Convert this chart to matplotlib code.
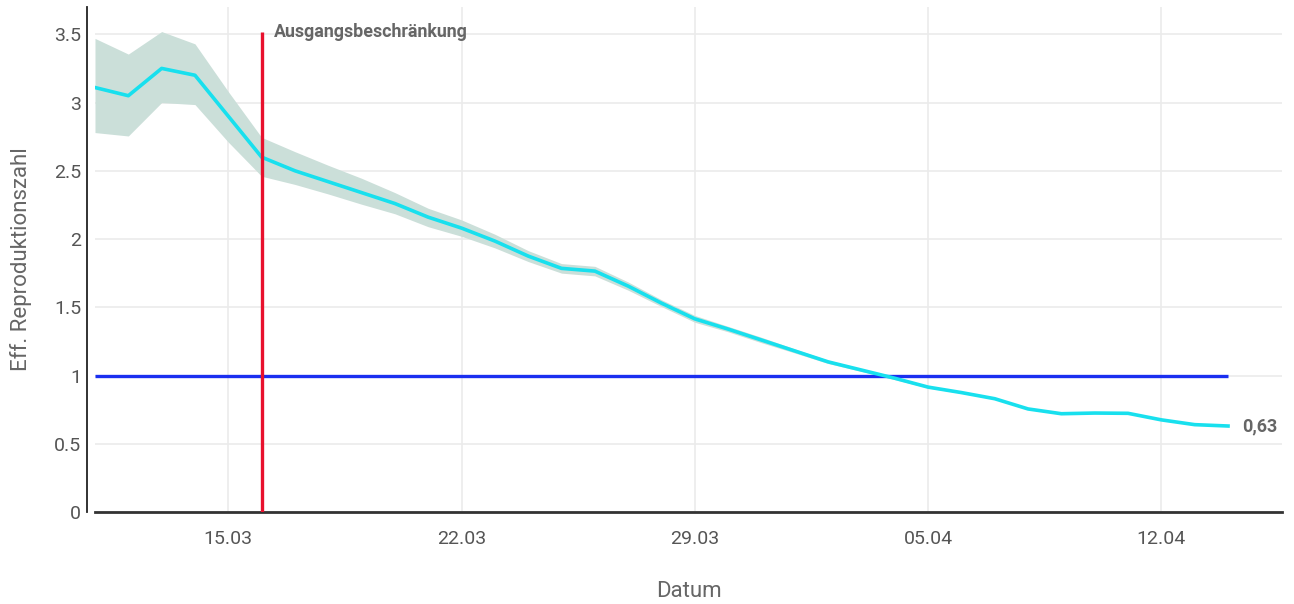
import matplotlib
matplotlib.use("Agg")
import matplotlib.pyplot as plt
import matplotlib.dates as mdates
from matplotlib.ticker import FuncFormatter
import pandas as pd

plt.rcParams['font.family'] = ['Roboto', 'DejaVu Sans']

# effective reproduction number, daily 11.03. - 14.04.2020
dates = pd.date_range("2020-03-11", "2020-04-14", freq="D")
r_eff = [3.11, 3.05, 3.25, 3.20, 2.90, 2.60, 2.50, 2.42, 2.34, 2.26, 2.16,
         2.08, 1.985, 1.875, 1.785, 1.765, 1.655, 1.53, 1.415, 1.34, 1.26,
         1.18, 1.10, 1.04, 0.98, 0.915, 0.875, 0.83, 0.755, 0.72, 0.725, 0.723,
         0.675, 0.64, 0.63]
r_upper = [3.47, 3.355, 3.52, 3.43, 3.08, 2.745, 2.64, 2.54, 2.445, 2.34, 2.225,
           2.14, 2.035, 1.915, 1.82, 1.80, 1.685, 1.555, 1.44, 1.36, 1.28,
           1.195, 1.112, 1.05, 0.99, 0.922, 0.88, 0.835, 0.76, 0.724, 0.729, 0.727,
           0.678, 0.643, 0.633]
r_lower = [2.78, 2.755, 3.00, 2.985, 2.71, 2.46, 2.40, 2.33, 2.255, 2.185, 2.09,
           2.02, 1.935, 1.835, 1.75, 1.73, 1.625, 1.505, 1.39, 1.32, 1.24,
           1.165, 1.088, 1.03, 0.97, 0.908, 0.87, 0.825, 0.75, 0.716, 0.721, 0.719,
           0.672, 0.637, 0.627]
lockdown_date = pd.Timestamp("2020-03-16")
lockdown_label = "Ausgangsbeschränkung"
tick_dates = pd.to_datetime(["2020-03-15", "2020-03-22", "2020-03-29", "2020-04-05", "2020-04-12"])
y_ticks = [0, 0.5, 1, 1.5, 2, 2.5, 3, 3.5]

grey = "#666666"

fig = plt.figure(figsize=(12.94, 6.04), dpi=100)
ax = fig.add_axes([95 / 1294, 92 / 604, (1282 - 95) / 1294, (512 - 7) / 604])

ax.fill_between(dates, r_lower, r_upper, color="#cbdfd9", lw=0, zorder=2)
ax.plot(dates, r_eff, color="#18e0ee", lw=2.6, zorder=4, solid_joinstyle="round")
ax.hlines(1, dates[0], dates[-1], color="#1a2ff0", lw=2.4, zorder=3)
ax.vlines(lockdown_date, 0, 3.52, color="#e8112d", lw=2.4, zorder=5)

ax.text(lockdown_date + pd.Timedelta(hours=9), 3.52, lockdown_label, color=grey,
        fontsize=12.8, fontweight="bold", va="center", ha="left")
ax.annotate(f"{r_eff[-1]:.2f}".replace(".", ","), (dates[-1], r_eff[-1]),
            xytext=(10, 0), textcoords="offset points", color=grey,
            fontsize=13, fontweight="bold", va="center", ha="left")

ax.set_xlim(dates[0], dates[-1] + pd.Timedelta(days=1.62))
ax.set_ylim(0, 3.7)
ax.set_xticks(tick_dates)
ax.xaxis.set_major_formatter(mdates.DateFormatter("%d.%m"))
ax.set_yticks(y_ticks)
ax.yaxis.set_major_formatter(FuncFormatter(lambda v, p: f"{v:g}"))
ax.tick_params(length=0, labelsize=14, labelcolor="#555555")
ax.tick_params(axis="x", pad=13)
ax.tick_params(axis="y", pad=4)

ax.grid(True, color="#ebebeb", lw=1.2, zorder=0)
ax.set_axisbelow(True)

for s in ["top", "right"]:
    ax.spines[s].set_visible(False)
ax.spines["left"].set_position(("outward", 6))
ax.spines["left"].set_color("#222222")
ax.spines["left"].set_linewidth(1.3)
ax.spines["bottom"].set_position(("data", 0))
ax.spines["bottom"].set_color("#333333")
ax.spines["bottom"].set_linewidth(2)

ax.set_xlabel("Datum", fontsize=16, color=grey, labelpad=24)
ax.set_ylabel("Eff. Reproduktionszahl", fontsize=16, color=grey, labelpad=16)

fig.savefig("out.png", dpi=100)
